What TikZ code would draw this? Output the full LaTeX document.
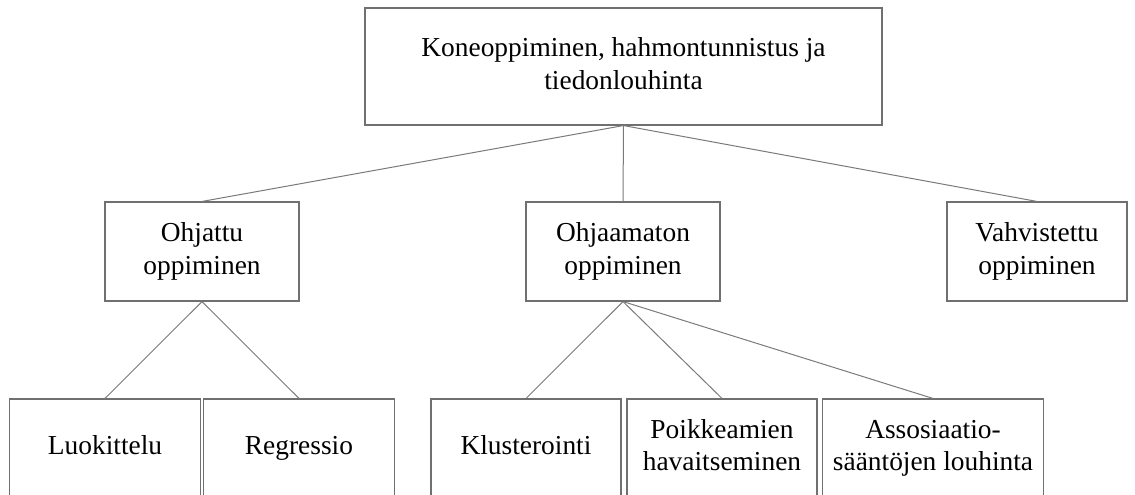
\documentclass[tikz,border=0pt]{standalone}
\usepackage{fontspec}
\setmainfont{Liberation Serif}
\begin{document}
\begin{tikzpicture}[x=1pt,y=-1pt,
  box/.style={draw=boxgray, line width=1.1pt, fill=white, inner sep=0pt,
    align=center, font=\fontsize{27.4}{32.5}\selectfont, text=black},
  link/.style={draw=linkgray, line width=1pt}]
\definecolor{boxgray}{HTML}{707070}
\definecolor{linkgray}{HTML}{7A7A7A}
\useasboundingbox (0,0) rectangle (1135,495);
\clip (0,0) rectangle (1135,495);
% root
\node[box, minimum width=517pt, minimum height=117pt] (root) at (623.5,66.5)
  {\strut Koneoppiminen, hahmontunnistus ja\\\strut tiedonlouhinta};
% second level
\node[box, minimum width=194pt, minimum height=99pt] (ohj) at (202,251.5)
  {\strut Ohjattu\\\strut oppiminen};
\node[box, minimum width=194pt, minimum height=99pt] (ohjm) at (623,251.5)
  {\strut Ohjaamaton\\\strut oppiminen};
\node[box, minimum width=180pt, minimum height=99pt] (vah) at (1037,251.5)
  {\strut Vahvistettu\\\strut oppiminen};
% leaves
\node[box, minimum width=191pt, minimum height=98pt] (luo) at (105,448)
  {\strut Luokittelu};
\node[box, minimum width=191pt, minimum height=98pt] (reg) at (299,448)
  {\strut Regressio};
\node[box, minimum width=190pt, minimum height=98pt] (klu) at (526,448)
  {\strut Klusterointi};
\node[box, minimum width=190pt, minimum height=98pt] (poi) at (722,448)
  {\strut Poikkeamien\\\strut havaitseminen};
\node[box, minimum width=221pt, minimum height=98pt] (ass) at (933,448)
  {\strut Assosiaatio-\\\strut sääntöjen louhinta};
% connectors
\draw[link] (root.south) -- (ohj.north);
\draw[link] (root.south) -- (ohjm.north);
\draw[link] (root.south) -- (vah.north);
\draw[link] (ohj.south) -- (luo.north);
\draw[link] (ohj.south) -- (reg.north);
\draw[link] (ohjm.south) -- (klu.north);
\draw[link] (ohjm.south) -- (poi.north);
\draw[link] (ohjm.south) -- (ass.north);
\end{tikzpicture}
\end{document}
